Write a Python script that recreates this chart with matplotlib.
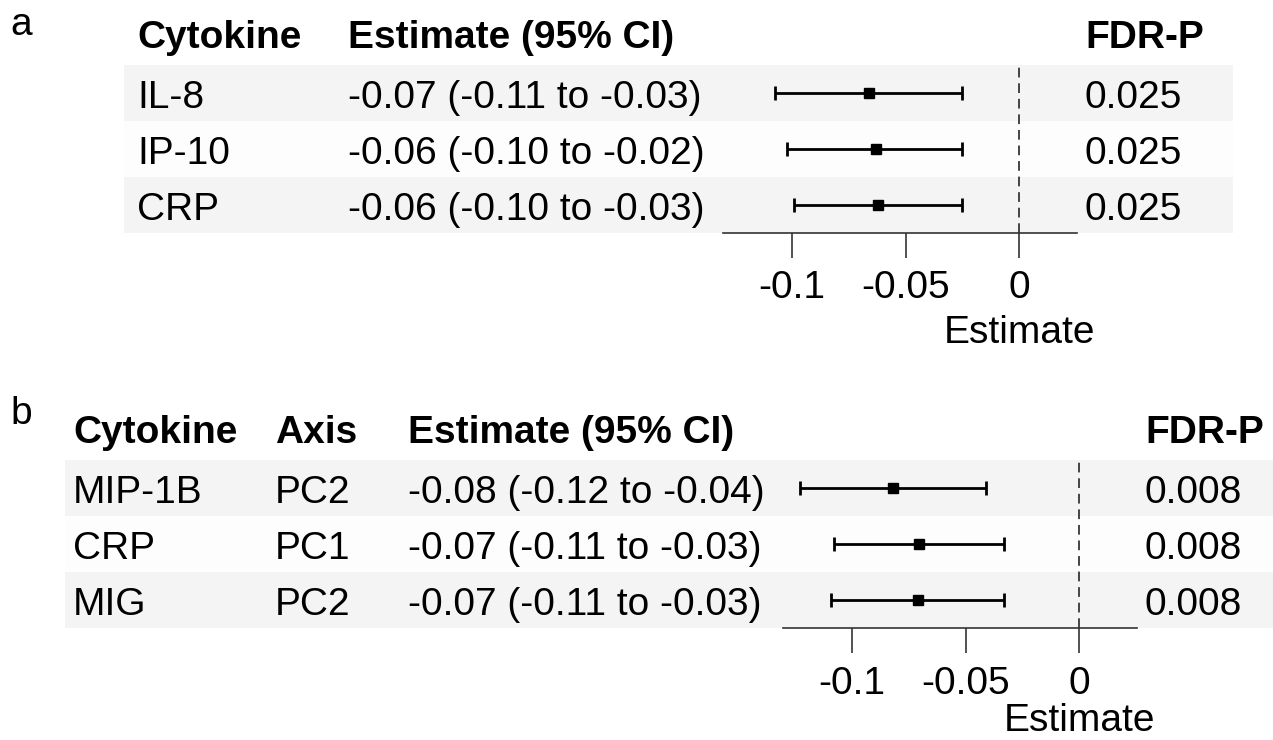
import numpy as np
import matplotlib
matplotlib.use("Agg")
import matplotlib.pyplot as plt
from matplotlib.patches import Rectangle
from matplotlib.transforms import blended_transform_factory

plt.rcParams['font.family'] = ['Liberation Sans', 'DejaVu Sans']

W, H = 1273, 740
FS = 28

# panel a data
a_cytokine = ['IL-8', 'IP-10', 'CRP']
a_ci_text = ['-0.07 (-0.11 to -0.03)', '-0.06 (-0.10 to -0.02)', '-0.06 (-0.10 to -0.03)']
a_est = [-0.066, -0.063, -0.062]
a_lo = [-0.1075, -0.102, -0.099]
a_hi = [-0.025, -0.025, -0.025]
a_fdr = ['0.025', '0.025', '0.025']

# panel b data
b_cytokine = ['MIP-1B', 'CRP', 'MIG']
b_axis = ['PC2', 'PC1', 'PC2']
b_ci_text = ['-0.08 (-0.12 to -0.04)', '-0.07 (-0.11 to -0.03)', '-0.07 (-0.11 to -0.03)']
b_est = [-0.082, -0.0706, -0.071]
b_lo = [-0.123, -0.108, -0.109]
b_hi = [-0.041, -0.033, -0.033]
b_fdr = ['0.008', '0.008', '0.008']

x_ticks = [-0.1, -0.05, 0]
x_ticklabels = ['-0.1', '-0.05', '0']


def fx(px):
    return px / W


def fy(py):
    return 1 - py / H


def forest_panel(fig, label, label_pos, box, shade_x, columns, headers,
                 est, lo, hi, xlim, est_base):
    left, right, top, bottom = box
    ax = fig.add_axes([fx(left), fy(bottom), fx(right) - fx(left), (bottom - top) / H])
    ax.set_facecolor('none')
    n = len(est)
    ax.set_ylim(n - 0.5, -0.5)
    ax.set_xlim(*xlim)

    tr = blended_transform_factory(fig.transFigure, ax.transData)

    # shaded rows
    for i in range(n):
        col = '#f4f4f4' if i % 2 == 0 else '#fdfdfd'
        ax.add_patch(Rectangle((fx(shade_x[0]), i - 0.5), fx(shade_x[1]) - fx(shade_x[0]), 1,
                               transform=tr, facecolor=col, edgecolor='none',
                               zorder=0, clip_on=False))

    # header + table text (baseline placed ~cap/2 below row centre)
    for (xp, vals), head in zip(columns, headers):
        ax.text(fx(xp), -0.81, head, transform=tr, fontsize=FS, fontweight='bold',
                va='baseline', ha='left')
        for i, v in enumerate(vals):
            ax.text(fx(xp), i + 0.26, v, transform=tr, fontsize=FS, va='baseline', ha='left')

    ax.axvline(0, color='#444444', lw=1.4, ls=(0, (5, 3)), zorder=1)
    y = np.arange(n)
    est = np.array(est)
    ax.errorbar(est, y, xerr=[est - np.array(lo), np.array(hi) - est], fmt='s',
                color='black', ms=6.5, capsize=4.8, elinewidth=2.0, capthick=2.0, zorder=3)

    for s in ['top', 'right', 'left']:
        ax.spines[s].set_visible(False)
    ax.spines['bottom'].set_color('#333333')
    ax.spines['bottom'].set_linewidth(1.2)
    ax.set_yticks([])
    ax.set_xticks(x_ticks)
    ax.set_xticklabels(x_ticklabels)
    ax.tick_params(axis='x', direction='out', length=18, width=1.2, color='#333333',
                   labelsize=FS, pad=9)

    trx = blended_transform_factory(ax.transData, fig.transFigure)
    ax.text(0, fy(est_base), 'Estimate', transform=trx, fontsize=FS,
            ha='center', va='baseline')

    fig.text(fx(label_pos[0]), fy(label_pos[1]), label, fontsize=FS, ha='left', va='baseline')
    return ax


fig = plt.figure(figsize=(W / 100, H / 100), dpi=100)

forest_panel(fig, 'a', (10, 35), (723, 1077, 65, 233), (124, 1233),
             [(137, a_cytokine), (348, a_ci_text), (1085, a_fdr)],
             ['Cytokine', 'Estimate (95% CI)', 'FDR-P'],
             a_est, a_lo, a_hi, (-0.1303, 0.0254), 343)

forest_panel(fig, 'b', (10, 424), (783, 1137, 460, 628), (65, 1273),
             [(73, b_cytokine), (275, b_axis), (408, b_ci_text), (1145, b_fdr)],
             ['Cytokine', 'Axis', 'Estimate (95% CI)', 'FDR-P'],
             b_est, b_lo, b_hi, (-0.1303, 0.0254), 731)

fig.savefig('out.png', dpi=100)
